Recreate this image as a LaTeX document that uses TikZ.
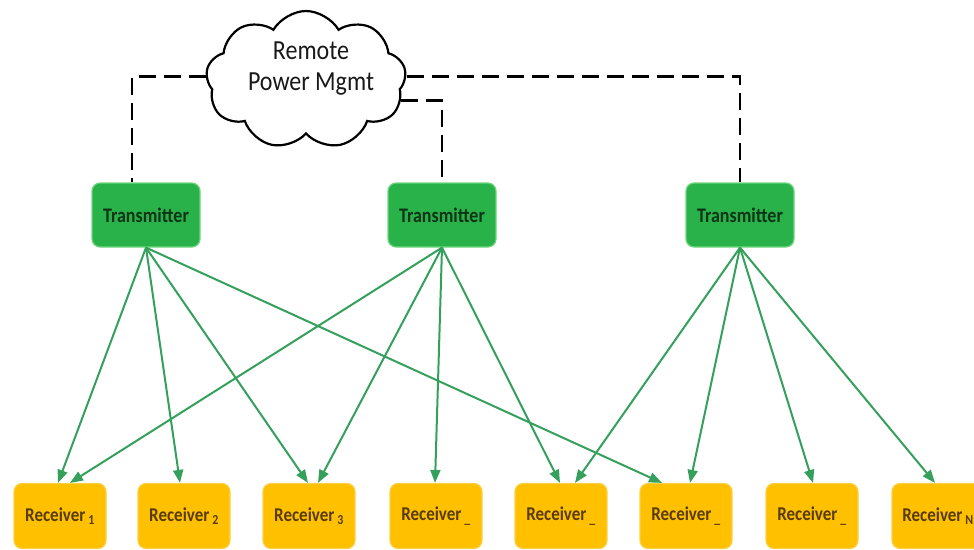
\documentclass[tikz,border=0pt]{standalone}
\usepackage{fontspec}
\usepackage{graphicx}
\setmainfont{Carlito}
\usetikzlibrary{shapes.symbols,arrows.meta}

\definecolor{txgreen}{RGB}{42,178,74}
\definecolor{txedge}{RGB}{110,215,125}
\definecolor{txtext}{RGB}{12,52,22}
\definecolor{rxfill}{RGB}{255,192,0}
\definecolor{rxedge}{RGB}{252,208,70}
\definecolor{rxtext}{RGB}{88,60,8}
\definecolor{linkgreen}{RGB}{52,160,92}

% slightly tall lettering
\newcommand{\tallText}[1]{\scalebox{1}[1.15]{#1}}

\begin{document}
\begin{tikzpicture}[x=1pt,y=-1pt,
  txbox/.style={draw=txedge, line width=1.2pt, fill=txgreen, rounded corners=8pt,
    minimum width=108pt, minimum height=64pt, inner sep=0pt,
    font=\fontsize{18}{20}\selectfont\bfseries, text=txtext},
  rxbox/.style={draw=rxedge, line width=1.2pt, fill=rxfill, rounded corners=8pt,
    minimum width=92pt, minimum height=65pt, inner sep=0pt,
    font=\fontsize{17}{20}\selectfont\bfseries, text=rxtext},
  link/.style={draw=linkgreen, line width=2pt,
    -{Triangle[length=13pt,width=10pt]}},
  powerline/.style={draw=black, line width=2.6pt, dash pattern=on 17pt off 8pt},
]
\clip (0,0) rectangle (974,549);
\useasboundingbox (0,0) rectangle (974,549);

% management cloud
\node[cloud, draw, line width=2.2pt, cloud puffs=9, cloud puff arc=120, aspect=1.45,
      minimum width=200pt, minimum height=138pt, inner sep=0pt, fill=white] (cloud) at (306,80) {};
\node[font=\fontsize{24}{31}\selectfont, align=center, text=black!90] (cloudtext) at (311,69)
  {\tallText{Remote}\\\tallText{Power Mgmt}};

% transmitters
\node[txbox] (t1) at (146,215) {\tallText{Transmitter}};
\node[txbox] (t2) at (442,215) {\tallText{Transmitter}};
\node[txbox] (t3) at (740,215) {\tallText{Transmitter}};

% receivers
\node[rxbox] (r1) at (60,516)  {\tallText{Receiver\,\textsubscript{1}}};
\node[rxbox] (r2) at (184,516) {\tallText{Receiver\,\textsubscript{2}}};
\node[rxbox] (r3) at (309,516) {\tallText{Receiver\,\textsubscript{3}}};
\node[rxbox] (r4) at (436,516) {\tallText{Receiver\,\textsubscript{\_}}};
\node[rxbox] (r5) at (561,516) {\tallText{Receiver\,\textsubscript{\_}}};
\node[rxbox] (r6) at (686,516) {\tallText{Receiver\,\textsubscript{\_}}};
\node[rxbox] (r7) at (812,516) {\tallText{Receiver\,\textsubscript{\_}}};
\node[rxbox] (r8) at (938,516) {\tallText{Receiver\,\textsubscript{N}}};

% power management links
\draw[powerline] (cloud.178) -| ([xshift=-14pt]t1.north);
\draw[powerline] (cloud.-12) -| (t2.north);
\draw[powerline] (cloud.2) -| (t3.north);

% wireless links
\draw[link] (t1.south) -- ([xshift=-2pt]r1.north);
\draw[link] (t1.south) -- ([xshift=-4pt]r2.north);
\draw[link] (t1.south) -- ([xshift=-1pt]r3.north);
\draw[link] (t1.south) -- ([xshift=-24pt]r6.north);

\draw[link] (t2.south) -- ([xshift=10pt]r1.north);
\draw[link] (t2.south) -- ([xshift=9pt]r3.north);
\draw[link] (t2.south) -- ([xshift=-1pt]r4.north);
\draw[link] (t2.south) -- ([xshift=-1pt]r5.north);

\draw[link] (t3.south) -- ([xshift=14pt]r5.north);
\draw[link] (t3.south) -- ([xshift=4pt]r6.north);
\draw[link] (t3.south) -- ([xshift=1pt]r7.north);
\draw[link] (t3.south) -- ([xshift=-3pt]r8.north);
\end{tikzpicture}
\end{document}
